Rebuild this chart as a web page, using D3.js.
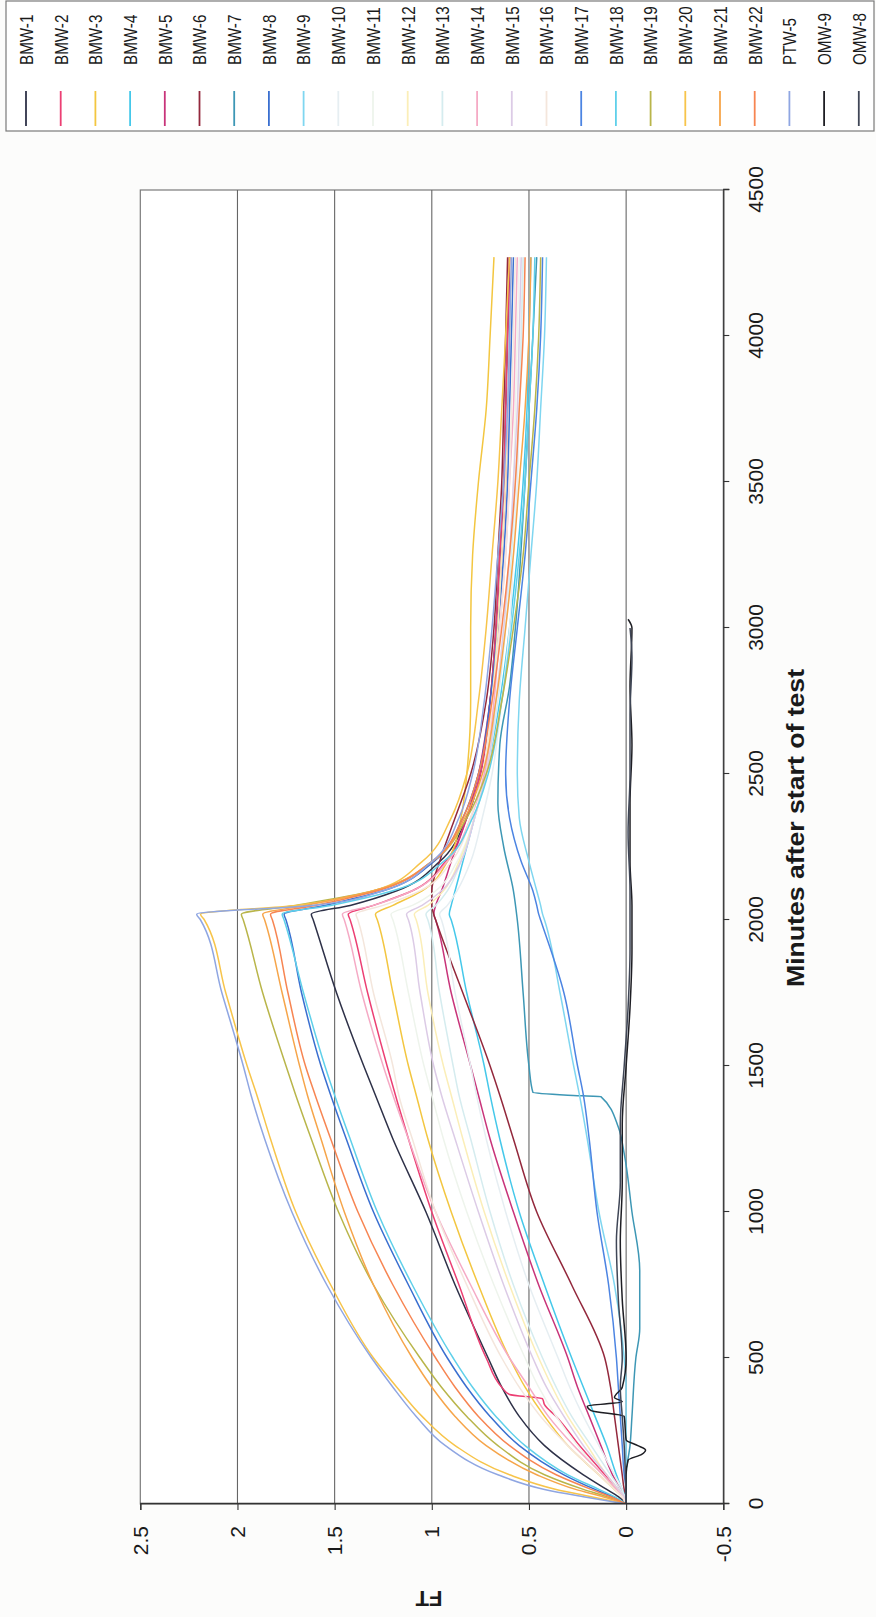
<!DOCTYPE html>
<html>
<head>
<meta charset="utf-8">
<script src="https://cdn.jsdelivr.net/npm/d3@7"></script>
<style>
  html, body { margin: 0; padding: 0; background: #fcfcfb; }
  svg { display: block; font-family: "Liberation Sans", Arial, sans-serif; }
</style>
</head>
<body>
<svg id="chart" width="876" height="1617"></svg>
<script>
// ---- data -------------------------------------------------------------
// Water-level change (ft) versus minutes after start of the pumping test.
const minutes = [0, 25, 50, 100, 200, 300, 400, 500, 750, 1000, 1250, 1400, 1500, 1750,
                 2000, 2020, 2050, 2100, 2200, 2350, 2500, 2750, 3000, 3250, 3500, 3750, 4000, 4270];

const ftBMW1  = [0, 0.04, 0.1, 0.22, 0.42, 0.55, 0.64, 0.71, 0.88, 1.03, 1.2, 1.29, 1.35, 1.49, 1.61, 1.62, 1.42, 1.18, 0.96, 0.82, 0.75, 0.7, 0.67, 0.65, 0.63, 0.62, 0.61, 0.6];
const minutesBMW2 = [0, 25, 50, 100, 200, 300, 340, 360, 375, 400, 500, 750, 1000, 1250, 1500, 1750, 2000, 2020, 2050, 2100, 2200, 2350, 2500, 2750, 3000, 3250, 3500, 3750, 4000, 4270];
const ftBMW2  = [0, 0.02, 0.05, 0.11, 0.24, 0.36, 0.42, 0.43, 0.6, 0.64, 0.72, 0.86, 1.0, 1.12, 1.23, 1.33, 1.42, 1.43, 1.3, 1.1, 0.93, 0.82, 0.75, 0.7, 0.67, 0.65, 0.63, 0.62, 0.61, 0.6];
const ftBMW3  = [0, 0.02, 0.06, 0.14, 0.3, 0.42, 0.52, 0.6, 0.76, 0.9, 1.02, 1.08, 1.12, 1.2, 1.28, 1.29, 1.2, 1.05, 0.92, 0.85, 0.82, 0.8, 0.8, 0.79, 0.76, 0.72, 0.7, 0.68];
const ftBMW4  = [0, 0, 0.02, 0.05, 0.1, 0.16, 0.22, 0.28, 0.42, 0.55, 0.65, 0.7, 0.73, 0.82, 0.9, 0.91, 0.9, 0.88, 0.84, 0.78, 0.72, 0.65, 0.6, 0.56, 0.53, 0.51, 0.5, 0.49];
const ftBMW5  = [0, 0.01, 0.03, 0.07, 0.13, 0.19, 0.25, 0.3, 0.45, 0.58, 0.7, 0.76, 0.8, 0.9, 0.98, 0.99, 0.98, 0.95, 0.9, 0.82, 0.76, 0.7, 0.66, 0.64, 0.62, 0.61, 0.6, 0.6];
const ftBMW6  = [0, 0, 0.01, 0.02, 0.04, 0.06, 0.08, 0.11, 0.28, 0.46, 0.58, 0.65, 0.7, 0.84, 0.98, 0.99, 1.0, 1.0, 0.96, 0.88, 0.8, 0.72, 0.68, 0.66, 0.64, 0.63, 0.62, 0.61];
const minutesBMW7 = [0, 100, 200, 300, 500, 600, 800, 1000, 1200, 1290, 1395, 1400, 1410, 1500, 1750, 2000, 2100, 2250, 2400, 2600, 2800, 3000, 3500, 4000, 4270];
const ftBMW7  = [0, 0, -0.02, -0.03, -0.05, -0.07, -0.07, -0.03, 0.01, 0.04, 0.13, 0.3, 0.48, 0.5, 0.53, 0.56, 0.58, 0.63, 0.66, 0.65, 0.6, 0.57, 0.52, 0.48, 0.46];
const ftBMW8  = [0, 0.07, 0.16, 0.32, 0.55, 0.7, 0.82, 0.92, 1.12, 1.3, 1.44, 1.52, 1.57, 1.67, 1.75, 1.76, 1.55, 1.25, 0.99, 0.84, 0.76, 0.7, 0.66, 0.63, 0.61, 0.6, 0.59, 0.58];
const ftBMW9  = [0, 0, 0, 0, 0, 0, 0, 0.01, 0.06, 0.14, 0.2, 0.24, 0.27, 0.34, 0.42, 0.43, 0.44, 0.46, 0.5, 0.55, 0.56, 0.55, 0.52, 0.49, 0.46, 0.44, 0.42, 0.41];
const ftBMW10 = [0, 0.01, 0.02, 0.06, 0.14, 0.22, 0.29, 0.35, 0.5, 0.62, 0.72, 0.77, 0.8, 0.88, 0.95, 0.96, 0.92, 0.87, 0.8, 0.74, 0.69, 0.64, 0.6, 0.58, 0.56, 0.55, 0.54, 0.53];
const ftBMW11 = [0, 0.02, 0.05, 0.12, 0.25, 0.36, 0.45, 0.52, 0.68, 0.82, 0.94, 1.0, 1.04, 1.12, 1.2, 1.21, 1.1, 0.98, 0.87, 0.78, 0.72, 0.67, 0.63, 0.6, 0.58, 0.57, 0.56, 0.55];
const ftBMW12 = [0, 0.01, 0.04, 0.1, 0.2, 0.3, 0.38, 0.45, 0.6, 0.73, 0.84, 0.9, 0.94, 1.02, 1.08, 1.09, 1.02, 0.94, 0.86, 0.78, 0.73, 0.69, 0.66, 0.64, 0.62, 0.61, 0.6, 0.59];
const ftBMW13 = [0, 0.01, 0.03, 0.08, 0.18, 0.28, 0.36, 0.43, 0.58, 0.7, 0.8, 0.86, 0.89, 0.96, 1.02, 1.03, 0.98, 0.92, 0.85, 0.78, 0.72, 0.66, 0.62, 0.59, 0.57, 0.55, 0.54, 0.53];
const ftBMW14 = [0, 0.02, 0.05, 0.12, 0.27, 0.4, 0.5, 0.6, 0.8, 0.98, 1.12, 1.2, 1.25, 1.36, 1.45, 1.46, 1.3, 1.1, 0.92, 0.8, 0.73, 0.68, 0.65, 0.62, 0.6, 0.58, 0.57, 0.56];
const ftBMW15 = [0, 0.01, 0.04, 0.1, 0.22, 0.32, 0.41, 0.48, 0.63, 0.76, 0.88, 0.95, 0.99, 1.06, 1.12, 1.13, 1.05, 0.95, 0.85, 0.78, 0.72, 0.67, 0.63, 0.6, 0.58, 0.56, 0.55, 0.54];
const ftBMW16 = [0, 0.02, 0.06, 0.14, 0.3, 0.44, 0.55, 0.64, 0.82, 0.98, 1.1, 1.17, 1.2, 1.3, 1.38, 1.39, 1.25, 1.06, 0.9, 0.8, 0.74, 0.69, 0.65, 0.62, 0.6, 0.59, 0.58, 0.57];
const ftBMW17 = [0, 0, 0, 0.01, 0.02, 0.03, 0.04, 0.05, 0.09, 0.15, 0.19, 0.22, 0.25, 0.32, 0.44, 0.45, 0.46, 0.48, 0.54, 0.6, 0.62, 0.6, 0.56, 0.52, 0.49, 0.46, 0.44, 0.43];
const ftBMW18 = [0, 0.06, 0.14, 0.3, 0.52, 0.67, 0.79, 0.89, 1.1, 1.28, 1.42, 1.5, 1.55, 1.66, 1.76, 1.77, 1.52, 1.2, 0.94, 0.79, 0.71, 0.64, 0.59, 0.55, 0.52, 0.5, 0.48, 0.47];
const ftBMW19 = [0, 0.1, 0.22, 0.42, 0.66, 0.82, 0.95, 1.06, 1.3, 1.48, 1.62, 1.7, 1.75, 1.87, 1.97, 1.98, 1.7, 1.3, 1.0, 0.82, 0.72, 0.64, 0.58, 0.53, 0.5, 0.47, 0.45, 0.44];
const ftBMW20 = [0, 0.18, 0.36, 0.6, 0.88, 1.05, 1.18, 1.3, 1.52, 1.7, 1.83, 1.9, 1.95, 2.06, 2.17, 2.19, 1.7, 1.3, 1.05, 0.9, 0.82, 0.76, 0.72, 0.69, 0.66, 0.64, 0.62, 0.6];
const ftBMW21 = [0, 0.12, 0.26, 0.46, 0.72, 0.88, 1.0, 1.1, 1.3, 1.45, 1.57, 1.64, 1.68, 1.77, 1.86, 1.87, 1.65, 1.3, 1.0, 0.83, 0.74, 0.67, 0.62, 0.58, 0.55, 0.52, 0.5, 0.49];
const ftBMW22 = [0, 0.08, 0.18, 0.36, 0.6, 0.76, 0.88, 0.98, 1.2, 1.38, 1.52, 1.6, 1.65, 1.74, 1.82, 1.83, 1.6, 1.28, 1.0, 0.84, 0.76, 0.69, 0.64, 0.6, 0.57, 0.55, 0.53, 0.52];
const ftPTW5  = [0, 0.22, 0.42, 0.66, 0.93, 1.08, 1.2, 1.31, 1.54, 1.72, 1.86, 1.93, 1.97, 2.08, 2.19, 2.21, 1.62, 1.25, 1.0, 0.86, 0.79, 0.73, 0.69, 0.66, 0.63, 0.61, 0.6, 0.59];
const minutesOMW9 = [0, 100, 150, 170, 185, 200, 220, 300, 320, 335, 350, 365, 400, 500, 700, 900, 1100, 1300, 1500, 1700, 1900, 2050, 2200, 2400, 2600, 2800, 3000, 3030];
const ftOMW9  = [0, 0, -0.01, -0.08, -0.1, -0.06, 0, 0.01, 0.18, 0.2, 0.02, 0.06, 0.02, 0, 0.02, 0.03, 0.02, 0.02, 0, -0.02, -0.03, -0.03, -0.02, -0.02, -0.03, -0.02, -0.03, -0.01];
const minutesOMW8 = [0, 200, 300, 400, 500, 700, 900, 1100, 1300, 1500, 1700, 1900, 2100, 2300, 2500, 2700, 2900, 3000];
const ftOMW8  = [0, 0.01, 0.02, 0.03, 0.02, 0.04, 0.05, 0.03, 0.03, 0.01, -0.01, -0.02, -0.02, -0.01, -0.02, -0.02, -0.03, -0.02];

const wellNames = ["BMW-1", "BMW-2", "BMW-3", "BMW-4", "BMW-5", "BMW-6", "BMW-7", "BMW-8", "BMW-9",
                   "BMW-10", "BMW-11", "BMW-12", "BMW-13", "BMW-14", "BMW-15", "BMW-16", "BMW-17",
                   "BMW-18", "BMW-19", "BMW-20", "BMW-21", "BMW-22", "PTW-5", "OMW-9", "OMW-8"];
const minuteTicks = [0, 500, 1000, 1500, 2000, 2500, 3000, 3500, 4000, 4500];
const ftTicks = [-0.5, 0, 0.5, 1, 1.5, 2, 2.5];

// ---- styles -----------------------------------------------------------
const wellColors = ["#2e3148", "#ec3f73", "#f3c640", "#45c8ea", "#c8347a", "#93283c", "#3d97b5", "#3a6fd0", "#7fd6f0",
                    "#e6eef2", "#eef4ec", "#fbeeb8", "#d5ecef", "#f5aac5", "#dccbe6", "#f4e6dc", "#4c84e2",
                    "#5fd0ea", "#b9b54a", "#f7c44a", "#f6a54a", "#f78552", "#8fa6e2", "#1e1e24", "#3f4656"];

const wellTimes = [minutes, minutesBMW2, minutes, minutes, minutes, minutes, minutesBMW7, minutes, minutes,
                   minutes, minutes, minutes, minutes, minutes, minutes, minutes, minutes,
                   minutes, minutes, minutes, minutes, minutes, minutes, minutesOMW9, minutesOMW8];
const wellValues = [ftBMW1, ftBMW2, ftBMW3, ftBMW4, ftBMW5, ftBMW6, ftBMW7, ftBMW8, ftBMW9,
                    ftBMW10, ftBMW11, ftBMW12, ftBMW13, ftBMW14, ftBMW15, ftBMW16, ftBMW17,
                    ftBMW18, ftBMW19, ftBMW20, ftBMW21, ftBMW22, ftPTW5, ftOMW9, ftOMW8];

const series = wellNames.map((name, i) => ({
  name,
  color: wellColors[i],
  points: wellTimes[i].map((t, j) => [t, wellValues[i][j]])
}));

// ---- layout (drawn landscape, then turned a quarter turn) ---------------
const W = 1617, H = 876;
const svg = d3.select("#chart");
svg.append("rect").attr("width", 876).attr("height", 1617).attr("fill", "#fcfcfb");

const g = svg.append("g").attr("transform", `translate(0,${W}) rotate(-90)`);

const x = d3.scaleLinear().domain([0, 4500]).range([113, 1427]);
const y = d3.scaleLinear().domain([-0.5, 2.5]).range([723.3, 140.3]);

// plot area
g.append("rect")
  .attr("x", x(0)).attr("y", y(2.5))
  .attr("width", x(4500) - x(0)).attr("height", y(-0.5) - y(2.5))
  .attr("fill", "#ffffff").attr("stroke", "#7a7a7a").attr("stroke-width", 1.2);

// horizontal grid
g.append("g").selectAll("line")
  .data(ftTicks.filter(d => d > -0.5 && d < 2.5))
  .join("line")
  .attr("x1", x(0)).attr("x2", x(4500))
  .attr("y1", d => y(d)).attr("y2", d => y(d))
  .attr("stroke", "#666").attr("stroke-width", 1.1);

// series
const line = d3.line().x(d => x(d[0])).y(d => y(d[1])).curve(d3.curveMonotoneX);
g.append("g").attr("fill", "none")
  .selectAll("path")
  .data(series)
  .join("path")
  .attr("d", d => line(d.points))
  .attr("stroke", d => d.color)
  .attr("stroke-width", 1.5)
  .attr("stroke-linejoin", "round");

// axes
const xAxis = g.append("g")
  .attr("transform", `translate(0,${y(-0.5)})`)
  .call(d3.axisBottom(x).tickValues(minuteTicks).tickSize(6).tickPadding(19).tickFormat(d => String(d)));
const yAxis = g.append("g")
  .attr("transform", `translate(${x(0)},0)`)
  .call(d3.axisLeft(y).tickValues(ftTicks).tickSize(6).tickPadding(16).tickFormat(d => String(d)));

[xAxis, yAxis].forEach(a => {
  a.select(".domain").attr("stroke", "#333").attr("stroke-width", 1.3);
  a.selectAll(".tick line").attr("stroke", "#333").attr("stroke-width", 1.1);
  a.selectAll(".tick text").attr("fill", "#1a1a1a").attr("font-size", 21)
    .attr("font-family", "'Liberation Sans', Arial, sans-serif");
});

// axis titles
g.append("text")
  .attr("x", 789).attr("y", 804)
  .attr("text-anchor", "middle")
  .attr("font-size", 23).attr("font-weight", "bold").attr("fill", "#1a1a1a")
  .attr("textLength", 318).attr("lengthAdjust", "spacingAndGlyphs")
  .text("Minutes after start of test");

g.append("text")
  .attr("transform", "translate(26,429) rotate(-90)")
  .attr("text-anchor", "middle")
  .attr("font-size", 22).attr("font-weight", "bold").attr("fill", "#1a1a1a")
  .text("FT");

// legend
const legend = g.append("g");
legend.append("rect")
  .attr("x", 1486).attr("y", 6).attr("width", 130).attr("height", 868)
  .attr("fill", "#ffffff").attr("stroke", "#7a7a7a").attr("stroke-width", 1.2);

const item = legend.selectAll("g.item")
  .data(series)
  .join("g").attr("class", "item")
  .attr("transform", (d, i) => `translate(0,${26 + i * 34.7})`);
item.append("line")
  .attr("x1", 1491).attr("x2", 1526)
  .attr("stroke", d => d.color).attr("stroke-width", 1.8);
// legend labels: tall, slightly narrow lettering
item.append("text")
  .attr("transform", "translate(1552,0) scale(0.8,1)")
  .attr("dy", "0.36em")
  .attr("font-size", 19).attr("fill", "#1a1a1a")
  .text(d => d.name);
</script>
</body>
</html>
